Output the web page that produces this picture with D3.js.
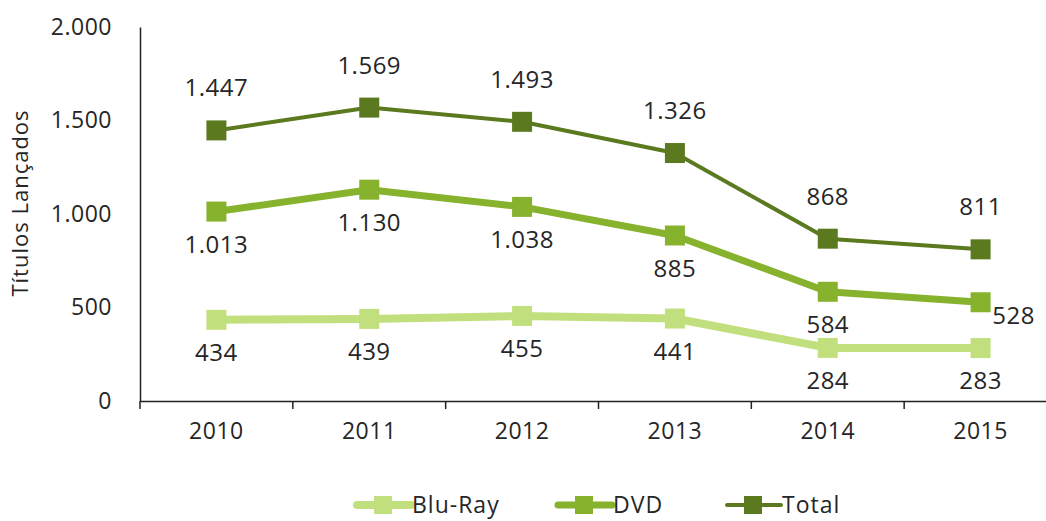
<!DOCTYPE html>
<html><head><meta charset="utf-8">
<script src="https://cdn.jsdelivr.net/npm/d3@7"></script>
<style>body{margin:0;background:#fff}svg{display:block}text{font-family:"Open Sans",sans-serif;fill:#262626}</style>
</head><body><svg id="c" width="1046" height="521"></svg>
<script>
const years = ["2010","2011","2012","2013","2014","2015"];
const bluRay = [434,439,455,441,284,283];
const dvd = [1013,1130,1038,885,584,528];
const total = [1447,1569,1493,1326,868,811];
const yTicks = [0,500,1000,1500,2000];
const seriesNames = ["Blu-Ray","DVD","Total"];

const svg = d3.select("#c");
const x = d3.scaleBand().domain(years).range([140,1057]);
const y = d3.scaleLinear().domain([0,2000]).range([401,27]);
const fmt = v => d3.format(",")(v).replace(/,/g,".");

// axes
const gy = svg.append("g").attr("transform","translate(140,0)")
  .call(d3.axisLeft(y).tickValues(yTicks).tickSize(0).tickPadding(28).tickFormat(fmt));
gy.select(".domain").attr("stroke","#222").attr("stroke-width",1.5);
gy.selectAll("text").style("font-size","23px").style("letter-spacing","0.5px").attr("fill","#262626");
const gx = svg.append("g").attr("transform","translate(0,401)")
  .call(d3.axisBottom(x).tickSize(0).tickPadding(22));
gx.select(".domain").attr("stroke","#222").attr("stroke-width",1.5);
gx.selectAll("text").style("font-size","23px").style("letter-spacing","0.5px").attr("fill","#262626");
// tick marks at band edges
svg.append("g").selectAll("line").data(years.concat(["end"])).join("line")
  .attr("x1",(d,i)=>140+i*x.step()).attr("x2",(d,i)=>140+i*x.step())
  .attr("y1",401).attr("y2",409).attr("stroke","#222").attr("stroke-width",1.5);

svg.append("text").attr("transform","translate(28,203) rotate(-90)")
  .attr("text-anchor","middle").style("font-size","22px").style("letter-spacing","1px").text("Títulos Lançados");

const series = [
  {name:seriesNames[0], vals:bluRay, color:"#c2df7e", w:8, pos:"below"},
  {name:seriesNames[1], vals:dvd, color:"#86b22e", w:7, pos:"below"},
  {name:seriesNames[2], vals:total, color:"#5b7a20", w:4, pos:"above"}
];
const cx = d => x(d)+x.bandwidth()/2;
const line = d3.line().x((d,i)=>cx(years[i])).y(d=>y(d));
series.forEach(s=>{
  const g = svg.append("g");
  g.append("path").datum(s.vals).attr("d",line).attr("fill","none")
    .attr("stroke",s.color).attr("stroke-width",s.w).attr("stroke-linejoin","round");
  g.selectAll("rect").data(s.vals).join("rect")
    .attr("x",(d,i)=>cx(years[i])-10).attr("y",d=>y(d)-10)
    .attr("width",20).attr("height",20).attr("fill",s.color);
  g.selectAll("text").data(s.vals).join("text")
    .attr("x",(d,i)=>{
      if(s.name==="DVD" && i===5) return cx(years[i])+33;
      return cx(years[i]);
    })
    .attr("y",(d,i)=>{
      if(s.name==="DVD" && i===5) return y(d)+22;
      if(s.pos==="above") return y(d)-34;
      return y(d)+41;
    })
    .attr("text-anchor","middle").style("font-size","24px").style("letter-spacing","0.5px").text(fmt);
});

// legend
const leg = [{x:355},{x:556},{x:725}];
series.forEach((s,i)=>{
  const g = svg.append("g").attr("transform",`translate(${leg[i].x},505)`);
  g.append("line").attr("x1",2).attr("x2",56).attr("y1",0).attr("y2",0)
    .attr("stroke",s.color).attr("stroke-width",s.w).attr("stroke-linecap","round");
  g.append("rect").attr("x",19).attr("y",-9).attr("width",18).attr("height",18).attr("fill",s.color);
  g.append("text").attr("x",57).attr("y",8).style("font-size","23px").style("letter-spacing","1px").text(s.name);
});
</script></body></html>
